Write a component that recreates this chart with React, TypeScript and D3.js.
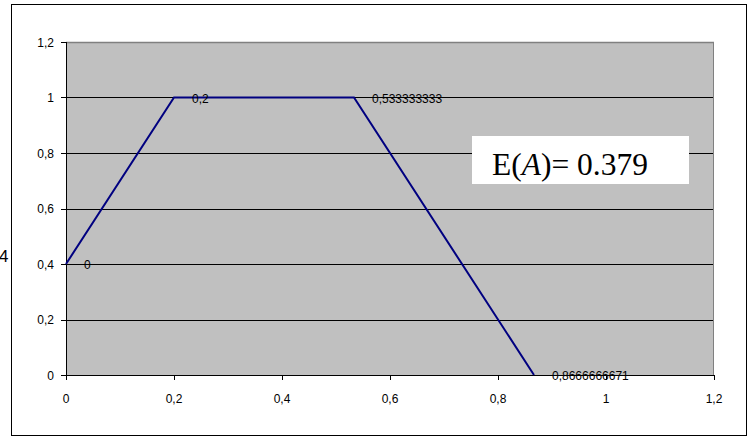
import React from "react";
import * as d3 from "d3";

const xValues = [0, 0.2, 0.533333333, 0.8666666671];
const yValues = [0.4, 1, 1, 0];
const pointLabels = ["0", "0,2", "0,533333333", "0,8666666671"];
const xTicks = [0, 0.2, 0.4, 0.6, 0.8, 1, 1.2];
const yTicks = [0, 0.2, 0.4, 0.6, 0.8, 1, 1.2];
const annotation = { prefix: "E(", italic: "A", suffix: ")= 0.379" };

const fmt = (v: number) => String(+v.toFixed(2)).replace(".", ",");

export default function App() {
  const W = 754, H = 437;
  const left = 66, right = 714, top = 42, bottom = 375;
  const x = d3.scaleLinear().domain([0, 1.2]).range([left, right]);
  const y = d3.scaleLinear().domain([0, 1.2]).range([bottom, top]);
  const pts: [number, number][] = xValues.map((v, i) => [v, yValues[i]]);
  const line = d3.line<[number, number]>().x((d) => x(d[0])).y((d) => y(d[1]));
  const font = "Arial, 'Liberation Sans', sans-serif";
  return (
    <svg width={W} height={H} style={{ position: "absolute", left: 0, top: 0 }}>
      <rect x={0} y={0} width={W} height={H} fill="#fff" />
      <defs>
        <clipPath id="c4"><rect x={0} y={0} width={11} height={H} /></clipPath>
      </defs>
      <text x={-1} y={262} fontFamily={font} fontSize={17} clipPath="url(#c4)">4</text>
      <rect x={11.5} y={4.5} width={735} height={431} fill="none" stroke="#000" strokeWidth={1} />
      <rect x={left} y={top} width={right - left} height={bottom - top} fill="#c0c0c0" />
      {yTicks.filter((t) => t > 0 && t < 1.2).map((t) => (
        <line key={t} x1={left} x2={right} y1={Math.round(y(t)) + 0.5} y2={Math.round(y(t)) + 0.5} stroke="#000" strokeWidth={1} />
      ))}
      <line x1={left} x2={right} y1={top + 0.5} y2={top + 0.5} stroke="#808080" strokeWidth={1.5} />
      <line x1={right - 0.5} x2={right - 0.5} y1={top} y2={bottom} stroke="#808080" strokeWidth={1} />
      <line x1={left + 0.5} x2={left + 0.5} y1={top} y2={bottom + 5} stroke="#000" strokeWidth={1} />
      <line x1={left} x2={right} y1={bottom + 0.5} y2={bottom + 0.5} stroke="#000" strokeWidth={1} />
      {yTicks.map((t) => (
        <g key={t}>
          <line x1={left - 5} x2={left} y1={Math.round(y(t)) + 0.5} y2={Math.round(y(t)) + 0.5} stroke="#000" />
          <text x={54} y={y(t) + 4.5} textAnchor="end" fontFamily={font} fontSize={12}>{fmt(t)}</text>
        </g>
      ))}
      {xTicks.map((t) => (
        <g key={t}>
          <line x1={Math.round(x(t)) + 0.5} x2={Math.round(x(t)) + 0.5} y1={bottom} y2={bottom + 5} stroke="#000" />
          <text x={x(t)} y={403} textAnchor="middle" fontFamily={font} fontSize={12}>{fmt(t)}</text>
        </g>
      ))}
      <path d={line(pts) || ""} fill="none" stroke="#000080" strokeWidth={2} />
      {pts.map((p, i) => (
        <text key={i} x={x(p[0]) + 18} y={y(p[1]) + 5} fontFamily={font} fontSize={12}>{pointLabels[i]}</text>
      ))}
      <rect x={472} y={136} width={217} height={48} fill="#fff" />
      <text x={492} y={175} fontFamily="'Liberation Serif', 'Times New Roman', serif" fontSize={31.5}>
        {annotation.prefix}<tspan fontStyle="italic">{annotation.italic}</tspan>{annotation.suffix}
      </text>
    </svg>
  );
}
